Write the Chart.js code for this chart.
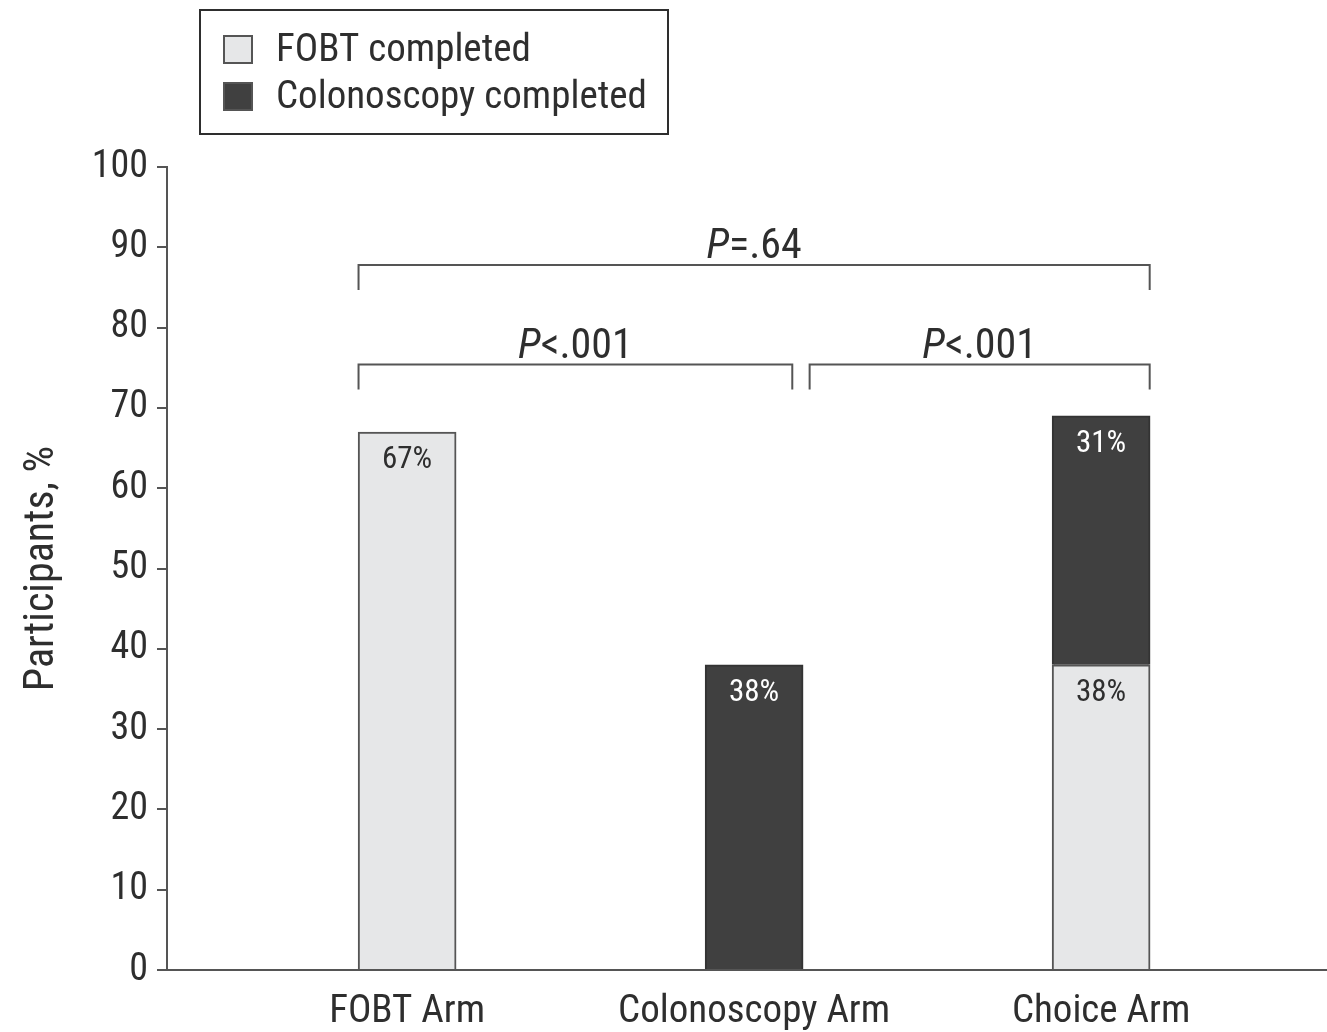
<!DOCTYPE html>
<html>
<head>
<meta charset="utf-8">
<script src="https://cdn.jsdelivr.net/npm/chart.js@4/dist/chart.umd.min.js"></script>
<style>
  body { margin: 0; background: #fff; }
  #wrap { width: 1327px; height: 1032px; }
</style>
</head>
<body>
<div id="wrap"><canvas id="armChart" width="1327" height="1032"></canvas></div>
<script>
// data
var arms = ["FOBT Arm", "Colonoscopy Arm", "Choice Arm"];
var fobtCompleted = [67, null, 38];
var colonoscopyCompleted = [null, 38, 31];
var yTicks = [0, 10, 20, 30, 40, 50, 60, 70, 80, 90, 100];

// comparisons drawn above the bars (x in arm units, y in %)
var brackets = [
  { from: -0.14, to: 2.14, y: 87.8, op: "=", p: ".64" },
  { from: -0.14, to: 1.11, y: 75.4, op: "<", p: ".001" },
  { from: 1.16, to: 2.14, y: 75.4, op: "<", p: ".001" }
];

var FONT = '"Roboto Condensed", "DejaVu Sans Condensed", sans-serif';
var LIGHT = '#e6e7e8';
var DARK = '#404040';
var INK = '#2e2e2e';
var AXIS = '#555555';

function toPoints(vals) {
  return vals.map(function (v, i) { return { x: i, y: v }; });
}

// % labels inside each segment
var barLabels = {
  id: 'barLabels',
  afterDatasetsDraw: function (chart) {
    var ctx = chart.ctx;
    ctx.save();
    ctx.font = '31px ' + FONT;
    ctx.textAlign = 'center';
    ctx.textBaseline = 'middle';
    chart.data.datasets.forEach(function (ds, di) {
      var meta = chart.getDatasetMeta(di);
      meta.data.forEach(function (bar, i) {
        var v = ds.data[i].y;
        if (v == null) return;
        ctx.fillStyle = di === 0 ? INK : '#ffffff';
        ctx.fillText(v + '%', bar.x, bar.y + 28);
      });
    });
    ctx.restore();
  }
};

// significance brackets
var pBrackets = {
  id: 'pBrackets',
  afterDraw: function (chart) {
    var ctx = chart.ctx, xs = chart.scales.x, ys = chart.scales.y;
    ctx.save();
    ctx.strokeStyle = AXIS;
    ctx.lineWidth = 2;
    brackets.forEach(function (b) {
      var x1 = xs.getPixelForValue(b.from), x2 = xs.getPixelForValue(b.to);
      var y = ys.getPixelForValue(b.y);
      ctx.beginPath();
      ctx.moveTo(x1, y + 25);
      ctx.lineTo(x1, y);
      ctx.lineTo(x2, y);
      ctx.lineTo(x2, y + 25);
      ctx.stroke();

      var italic = 'italic 42px ' + FONT, normal = '42px ' + FONT;
      var rest = (b.op === '=' ? '=' : '<') + b.p;
      ctx.font = italic;
      var wP = ctx.measureText('P').width;
      ctx.font = normal;
      var wR = ctx.measureText(rest).width;
      var cx = (x1 + x2) / 2;
      var start = cx - (wP + wR) / 2;
      ctx.fillStyle = INK;
      ctx.textBaseline = 'alphabetic';
      ctx.textAlign = 'left';
      ctx.font = italic;
      ctx.fillText('P', start, y - 7);
      ctx.font = normal;
      ctx.fillText(rest, start + wP, y - 7);
    });
    ctx.restore();
  }
};

// boxed legend at top left
var boxLegend = {
  id: 'boxLegend',
  afterDraw: function (chart) {
    var ctx = chart.ctx;
    ctx.save();
    ctx.strokeStyle = INK;
    ctx.lineWidth = 2;
    ctx.strokeRect(200, 10, 468, 124);
    ctx.font = '39px ' + FONT;
    ctx.textBaseline = 'middle';
    ctx.textAlign = 'left';
    chart.data.datasets.forEach(function (ds, i) {
      var y = 36 + i * 47;
      ctx.fillStyle = ds.backgroundColor;
      ctx.fillRect(224, y, 28, 27);
      ctx.strokeStyle = AXIS;
      ctx.strokeRect(224, y, 28, 27);
      ctx.fillStyle = INK;
      ctx.fillText(ds.label, 276, y + 15);
    });
    ctx.restore();
  }
};

var ctx = document.getElementById('armChart').getContext('2d');
var armChart = new Chart(ctx, {
  type: 'bar',
  data: {
    datasets: [{
      label: 'FOBT completed',
      data: toPoints(fobtCompleted),
      backgroundColor: LIGHT,
      borderColor: AXIS,
      borderWidth: 2,
      borderSkipped: 'bottom',
      barThickness: 98
    }, {
      label: 'Colonoscopy completed',
      data: toPoints(colonoscopyCompleted),
      backgroundColor: DARK,
      borderColor: '#333333',
      borderWidth: 2,
      borderSkipped: 'bottom',
      barThickness: 98
    }]
  },
  options: {
    responsive: false,
    animation: false,
    layout: { padding: { top: 167, right: 0, left: 0, bottom: 0 } },
    plugins: {
      legend: { display: false },
      tooltip: { enabled: false }
    },
    scales: {
      x: {
        type: 'linear',
        stacked: true,
        offset: false,
        min: -0.692,
        max: 2.651,
        afterFit: function (s) { s.height = 62; },
        ticks: {
          stepSize: 1,
          includeBounds: false,
          padding: 19,
          color: INK,
          font: { family: FONT, size: 39 },
          callback: function (v) { return arms[v] || ''; }
        },
        grid: { display: true, drawOnChartArea: false, drawTicks: false, color: AXIS },
        border: { display: true, color: AXIS, width: 2 }
      },
      y: {
        stacked: true,
        min: 0,
        max: 100,
        afterFit: function (s) { s.width = 167; },
        afterBuildTicks: function (s) { s.ticks = yTicks.map(function (v) { return { value: v }; }); },
        ticks: {
          padding: 9,
          color: INK,
          font: { family: FONT, size: 38 }
        },
        grid: { drawOnChartArea: false, drawTicks: true, tickLength: 10, color: AXIS, lineWidth: 2 },
        border: { display: true, color: AXIS, width: 2 },
        title: {
          display: true,
          text: 'Participants, %',
          color: INK,
          font: { family: FONT, size: 42 },
          padding: { top: 17, bottom: 0 }
        }
      }
    }
  },
  plugins: [barLabels, pBrackets, boxLegend]
});
</script>
</body>
</html>
